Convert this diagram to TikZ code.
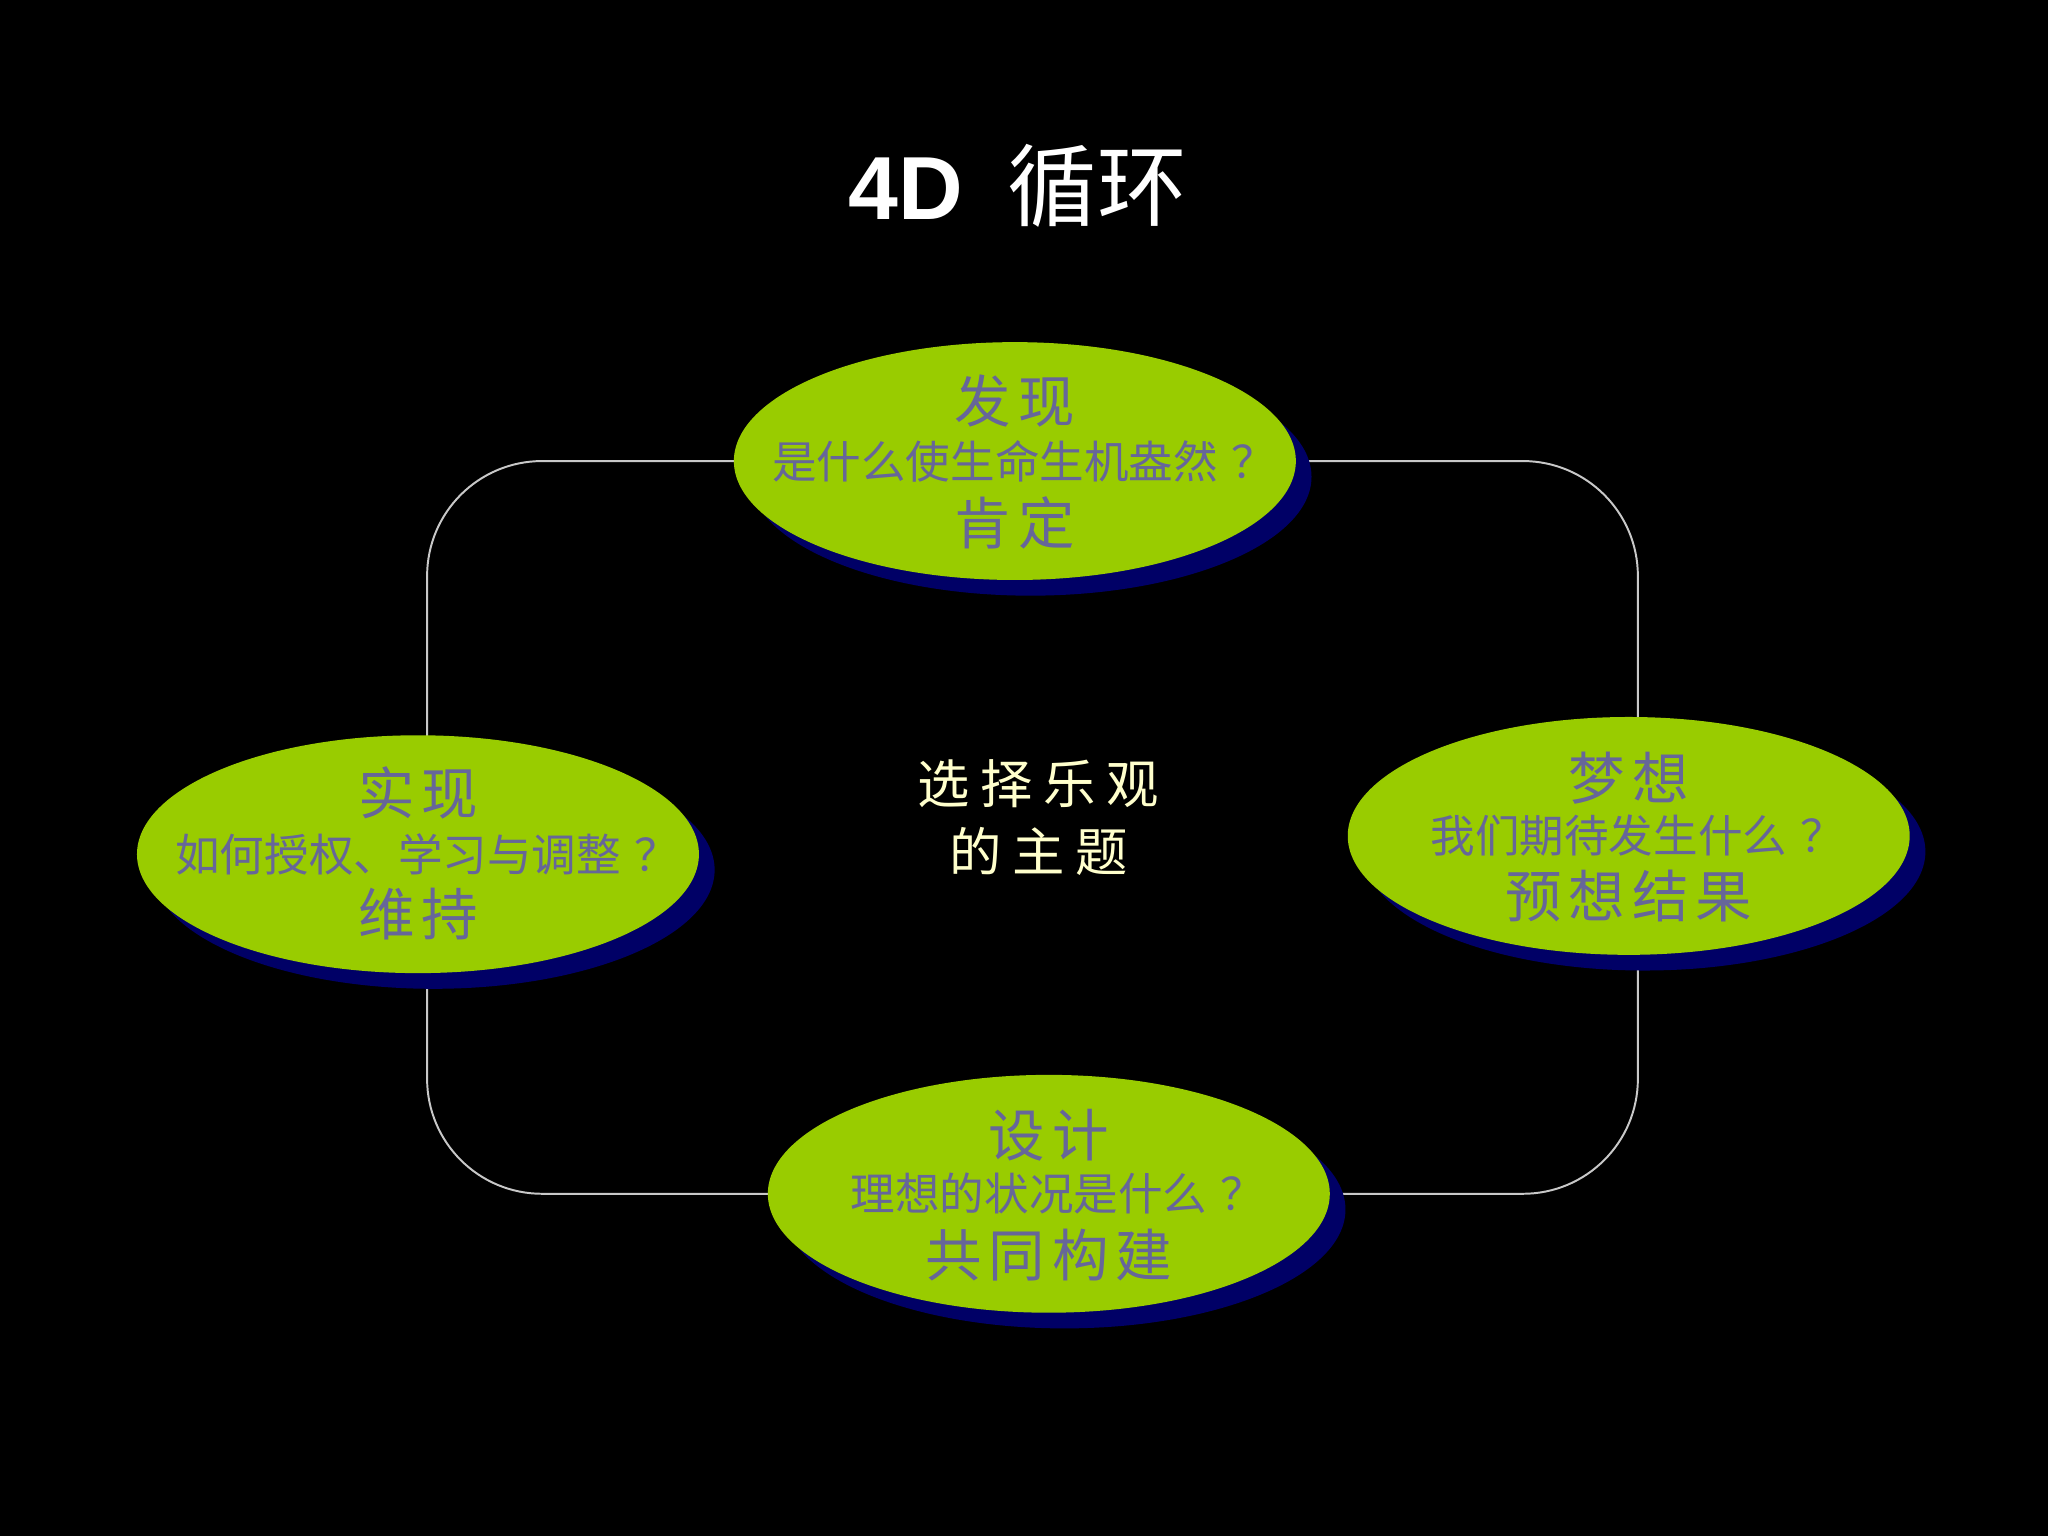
\documentclass[tikz,border=0pt]{standalone}
\usepackage{fontspec}
\setmainfont{Liberation Sans}
\newfontfamily\cjk{Noto Sans CJK SC}
\newfontfamily\cjkwide[LetterSpace=12]{Noto Sans CJK SC}
\newfontfamily\cjktheme[LetterSpace=20]{Noto Sans CJK SC}
\usepackage{tikz}
\usetikzlibrary{shapes,shadows,positioning}
\definecolor{leafgreen}{HTML}{99CC00}
\definecolor{leafshadow}{HTML}{000066}
\definecolor{leafink}{HTML}{666699}
\definecolor{themeink}{HTML}{FFFFCC}
\definecolor{cyclegray}{HTML}{C8C8C8}
\pgfdeclarelayer{back}
\pgfsetlayers{back,main}
\newcommand{\qmark}{\hspace{0.3em}？}

\begin{document}
\begin{tikzpicture}[x=0.01cm,y=-0.01cm]
            \tikzstyle{leaf}=[ellipse, fill=leafgreen, inner sep=0pt, minimum width=4.3cm, minimum height=1.82cm,
                drop shadow={shadow xshift=0.12cm, shadow yshift=-0.12cm, opacity=1, fill=leafshadow}]
            \tikzstyle{head}=[text=leafink, inner sep=0pt, font=\fontsize{12.3}{14}\selectfont\cjkwide]
            \tikzstyle{ask}=[text=leafink, inner sep=0pt, font=\fontsize{9.7}{12}\selectfont\cjk]
            \tikzstyle{theme}=[text=themeink, align=center, inner sep=0pt, font=\fontsize{11.4}{14.8}\selectfont\cjktheme]
            \tikzstyle{cycleline}=[cyclegray, line width=0.015cm, rounded corners=0.88cm]

            \begin{pgfonlayer}{back}
            \fill[black] (0,0) rectangle (1568,1176);
            \end{pgfonlayer}
            \useasboundingbox (0,0) rectangle (1568,1176);

            \node[text=white, inner sep=0pt, font=\fontsize{19.5}{22}\selectfont] (title) at (779,142) {\textbf{4D}\hspace{0.5em}{\cjk 循环}};

            \node[leaf] (faxian) at (777,353) {};
            \node[head] (faxianh) at ([yshift=0.46cm]faxian.center) {发现};
            \node[ask] (faxianq) at ([xshift=0.07cm]faxian.center) {是什么使生命生机盎然\qmark};
            \node[head] (faxianf) at ([yshift=-0.47cm]faxian.center) {肯定};

            \node[leaf] (mengxiang) at (1247,640) {};
            \node[head] (mengxiangh) at ([yshift=0.44cm]mengxiang.center) {梦想};
            \node[ask] (mengxiangq) at ([xshift=0.07cm]mengxiang.center) {我们期待发生什么\qmark};
            \node[head] (mengxiangf) at ([yshift=-0.46cm]mengxiang.center) {预想结果};

            \node[leaf] (sheji) at (803,914) {};
            \node[head] (shejih) at ([yshift=0.45cm]sheji.center) {设计};
            \node[ask] (shejiq) at ([xshift=0.07cm]sheji.center) {理想的状况是什么\qmark};
            \node[head] (shejif) at ([yshift=-0.47cm]sheji.center) {共同构建};

            \node[leaf] (shixian) at (320,654) {};
            \node[head] (shixianh) at ([yshift=0.47cm]shixian.center) {实现};
            \node[ask] (shixianq) at ([xshift=0.07cm]shixian.center) {如何授权、学习与调整\qmark};
            \node[head] (shixianf) at ([yshift=-0.46cm]shixian.center) {维持};

            \node[theme] (centre) at (795,626) {选择乐观\\的主题};

            \begin{pgfonlayer}{back}
            \draw[cycleline] (faxian.center) -| ([xshift=0.07cm]mengxiang.center)
                |- (sheji.center) -| ([xshift=0.07cm]shixian.center) |- (faxian.center);
            \end{pgfonlayer}

        \end{tikzpicture}
\end{document}
